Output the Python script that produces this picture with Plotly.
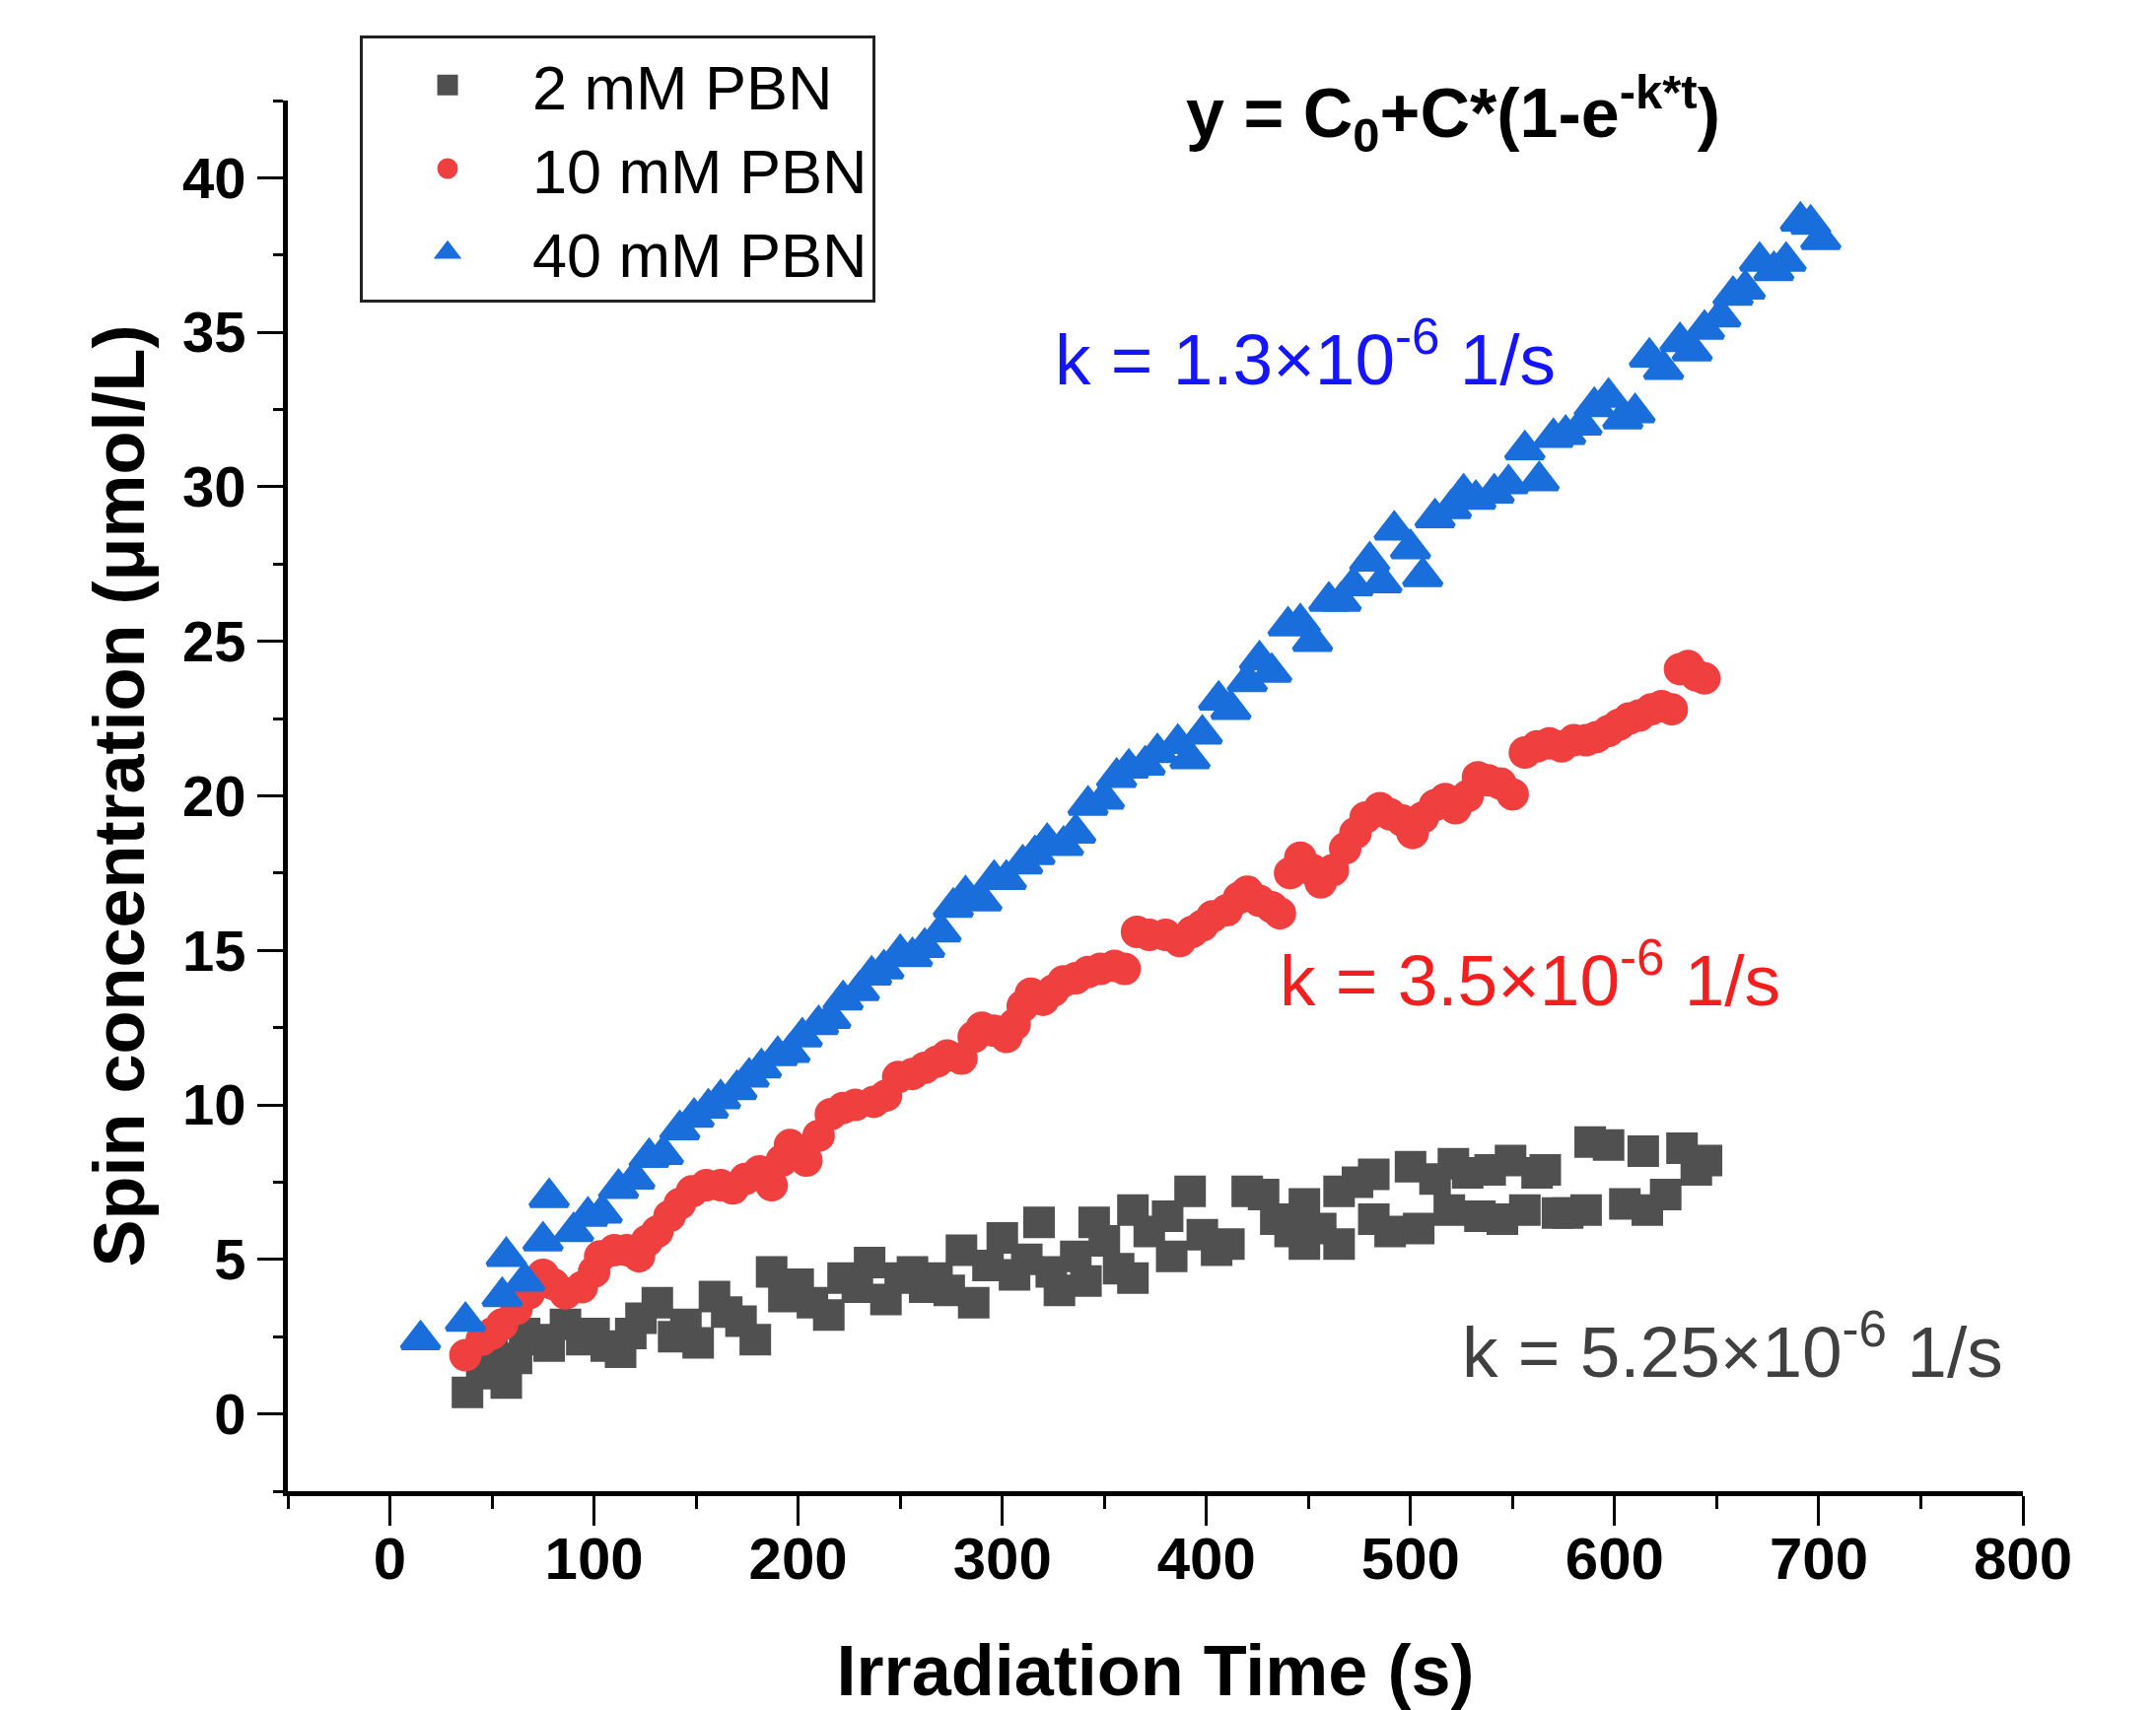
import plotly.graph_objects as go

# ---------------- data ----------------
t_2mM = [38, 45, 50, 57, 62, 66, 72, 78, 86, 94,
         100, 106, 113, 118, 123, 131, 139, 145, 151, 159,
         165, 172, 179, 187, 193, 200, 207, 215, 222, 229,
         235, 243, 250, 256, 262, 268, 274, 280, 286, 293,
         300, 306, 312, 318, 324, 328, 336, 341, 345, 350,
         357, 364, 364, 372, 381, 383, 392, 398, 405, 411,
         420, 428, 434, 441, 448, 448, 456, 465, 465, 474,
         482, 482, 490, 500, 504, 512, 519, 521, 528, 534,
         539, 545, 549, 556, 562, 566, 572, 577, 586, 588,
         597, 605, 614, 616, 625, 633, 640, 645]
c_2mM = [0.7, 1.3, 1.9, 1.0, 1.8, 2.6, 2.4, 2.2, 2.9, 2.4,
         2.6, 2.2, 2.0, 2.6, 3.1, 3.6, 2.5, 2.9, 2.3, 3.8,
         3.3, 3.0, 2.4, 4.6, 3.8, 4.2, 3.6, 3.2, 4.4, 4.1,
         4.9, 3.7, 4.4, 4.6, 4.1, 4.4, 4.0, 5.3, 3.6, 4.8,
         5.7, 4.5, 5.0, 6.2, 4.6, 4.0, 5.1, 4.3, 6.2, 5.6,
         4.7, 4.4, 6.6, 5.9, 6.4, 5.1, 7.2, 5.8, 5.3, 5.5,
         7.2, 7.1, 6.3, 5.9, 5.5, 6.8, 6.0, 5.5, 7.2, 7.5,
         7.75, 6.3, 5.9, 8.0, 6.0, 7.6, 6.6, 8.1, 7.8, 6.4,
         7.9, 6.3, 8.2, 6.6, 7.8, 7.9, 6.5, 6.5, 6.6, 8.8,
         8.7, 6.8, 8.5, 6.6, 7.1, 8.6, 7.9, 8.2]

t_10mM = [37, 45, 50, 55, 62, 68, 75, 80, 86, 94,
          100, 103, 110, 116, 122, 126, 131, 137, 142, 148,
          155, 162, 168, 174, 181, 187, 192, 196, 204, 210,
          216, 222, 228, 237, 243, 249, 256, 262, 268, 273,
          280, 286, 290, 296, 302, 306, 310, 314, 320, 325,
          330, 336, 342, 348, 355, 360, 366, 372, 380, 387,
          393, 398, 403, 410, 416, 420, 426, 432, 436, 441,
          446, 452, 456, 462, 468, 473, 478, 485, 490, 496,
          501, 506, 512, 517, 522, 528, 533, 538, 544, 550,
          556, 562, 568, 574, 580, 586, 591, 597, 602, 607,
          612, 618, 623, 628, 632, 636, 640, 644]
c_10mM = [1.9, 2.4, 2.6, 2.9, 3.4, 3.9, 4.5, 4.2, 3.9, 4.1,
          4.6, 5.1, 5.3, 5.3, 5.1, 5.6, 5.9, 6.4, 6.8, 7.2,
          7.4, 7.4, 7.3, 7.6, 7.85, 7.4, 8.2, 8.7, 8.2, 9.0,
          9.7, 9.9, 10.0, 10.1, 10.3, 10.9, 11.0, 11.2, 11.4, 11.6,
          11.5, 12.2, 12.5, 12.4, 12.2, 12.6, 13.2, 13.6, 13.4, 13.7,
          14.0, 14.1, 14.3, 14.4, 14.5, 14.4, 15.6, 15.5, 15.5, 15.3,
          15.6, 15.8, 16.1, 16.3, 16.7, 16.9, 16.6, 16.4, 16.2, 17.5,
          18.0, 17.6, 17.2, 17.6, 18.3, 18.8, 19.3, 19.6, 19.4, 19.2,
          18.8, 19.3, 19.7, 19.9, 19.6, 20.0, 20.6, 20.5, 20.4, 20.05,
          21.4, 21.6, 21.7, 21.6, 21.8, 21.8, 21.9, 22.1, 22.3, 22.5,
          22.6, 22.8, 22.9, 22.8, 24.1, 24.2, 23.9, 23.8]

t_40mM = [15, 37, 55, 57, 66, 75, 78, 90, 97, 104,
          112, 120, 127, 134, 142, 149, 156, 162, 170, 176,
          182, 190, 196, 202, 210, 216, 222, 230, 236, 242,
          250, 256, 262, 270, 276, 282, 290, 296, 302, 310,
          316, 322, 330, 336, 342, 350, 356, 362, 370, 376,
          386, 392, 398, 406, 412, 420, 426, 432, 440, 446,
          452, 460, 466, 472, 480, 486, 492, 500, 506, 512,
          520, 526, 532, 541, 548, 556, 563, 570, 576, 584,
          590, 597, 604, 610, 617, 624, 632, 638, 644, 652,
          658, 664, 671, 678, 684, 691, 696, 701]
c_40mM = [2.4, 3.0, 3.8, 5.1, 4.3, 5.6, 7.0, 5.9, 6.4, 6.5,
          7.3, 7.6, 8.3, 8.4, 9.2, 9.6, 9.9, 10.2, 10.5, 10.9,
          11.2, 11.6, 11.7, 12.2, 12.6, 12.8, 13.4, 13.7, 14.2, 14.4,
          14.9, 14.8, 15.1, 15.6, 16.4, 16.8, 16.6, 17.3, 17.3, 17.8,
          18.1, 18.5, 18.4, 18.8, 19.7, 19.9, 20.6, 20.9, 21.0, 21.4,
          21.7, 21.2, 22.0, 23.1, 22.8, 23.7, 24.4, 24.0, 25.5, 25.6,
          25.0, 26.3, 26.3, 26.8, 27.6, 26.9, 28.6, 28.0, 27.1, 29.0,
          29.3, 29.8, 29.6, 29.8, 30.1, 31.2, 30.2, 31.6, 31.7, 32.0,
          32.6, 32.9, 32.2, 32.4, 34.2, 33.8, 34.7, 34.4, 35.1, 35.5,
          36.2, 36.4, 37.3, 37.0, 37.3, 38.6, 38.5, 38.0]

series_names = ["2 mM PBN", "10 mM PBN", "40 mM PBN"]
x_ticks = [0, 100, 200, 300, 400, 500, 600, 700, 800]
y_ticks = [0, 5, 10, 15, 20, 25, 30, 35, 40]

equation_text = "<b>y = C<sub>0</sub>+C*(1-e<sup>-k*t</sup>)</b>"
k_labels = ["k = 5.25×10<sup>-6</sup> 1/s", "k = 3.5×10<sup>-6</sup> 1/s", "k = 1.3×10<sup>-6</sup> 1/s"]

# ---------------- styling ----------------
FONT = "Liberation Sans, Arial, sans-serif"
GRAY = "#505050"
RED = "#ef3f3f"
BLUE = "#1a6edc"

fig = go.Figure()
fig.add_trace(go.Scatter(x=t_2mM, y=c_2mM, mode="markers", name=series_names[0],
                         marker=dict(symbol="square", size=27, color=GRAY,
                                     line=dict(width=5, color=GRAY))))
fig.add_trace(go.Scatter(x=t_10mM, y=c_10mM, mode="markers", name=series_names[1],
                         marker=dict(symbol="circle", size=28, color=RED,
                                     line=dict(width=5, color=RED))))
fig.add_trace(go.Scatter(x=t_40mM, y=c_40mM, mode="markers", name=series_names[2],
                         marker=dict(symbol="triangle-up", size=33, color=BLUE,
                                     line=dict(width=5, color=BLUE))))

axis_common = dict(showline=True, linecolor="black", linewidth=5, mirror=False,
                   ticks="outside", tickcolor="black", tickwidth=3,
                   showgrid=False, zeroline=False)

fig.update_xaxes(range=[-50, 800], tickvals=x_ticks, ticklen=30, ticklabelstandoff=-18,
                 tickfont=dict(family=FONT, size=60, color="black", weight="bold"),
                 minor=dict(ticks="outside", ticklen=13, tickwidth=3, tickcolor="black",
                            dtick=50, tick0=0, showgrid=False),
                 title=dict(text="<b>Irradiation Time (s)</b>",
                            font=dict(family=FONT, size=72, color="black"), standoff=58),
                 **axis_common)
fig.update_yaxes(range=[-2.5, 42.5], tickvals=y_ticks, ticklen=26,
                 tickfont=dict(family=FONT, size=58, color="black", weight="bold"),
                 minor=dict(ticks="outside", ticklen=10, tickwidth=3, tickcolor="black",
                            dtick=2.5, tick0=0, showgrid=False),
                 title=dict(text="<b>Spin concentration (μmol/L)</b>",
                            font=dict(family=FONT, size=72, color="black"), standoff=16),
                 **axis_common)

fig.add_annotation(x=521, y=42.1, xref="x", yref="y", text=equation_text,
                   showarrow=False, xanchor="center", yanchor="middle",
                   font=dict(family=FONT, size=70, color="black"))
fig.add_annotation(x=524, y=2.2, xref="x", yref="y", text=k_labels[0],
                   showarrow=False, xanchor="left", yanchor="middle",
                   font=dict(family=FONT, size=73, color="#404040"))
fig.add_annotation(x=435, y=14.2, xref="x", yref="y", text=k_labels[1],
                   showarrow=False, xanchor="left", yanchor="middle",
                   font=dict(family=FONT, size=73, color="#f51e1e"))
fig.add_annotation(x=325, y=34.3, xref="x", yref="y", text=k_labels[2],
                   showarrow=False, xanchor="left", yanchor="middle",
                   font=dict(family=FONT, size=73, color="#1414ff"))

fig.update_layout(
    width=2187, height=1735,
    margin=dict(l=292, r=135, t=102, b=222, pad=0, autoexpand=False),
    paper_bgcolor="white", plot_bgcolor="white",
    font=dict(family=FONT, color="black"),
    legend=dict(x=0.0415, y=1.047, xanchor="left", yanchor="top",
                bordercolor="#222222", borderwidth=3, bgcolor="white",
                font=dict(family=FONT, size=63, color="black"),
                itemwidth=162, tracegroupgap=0),
)

fig.write_html("out.html", config={"displayModeBar": False},
               post_script="document.body.style.margin='0';")
